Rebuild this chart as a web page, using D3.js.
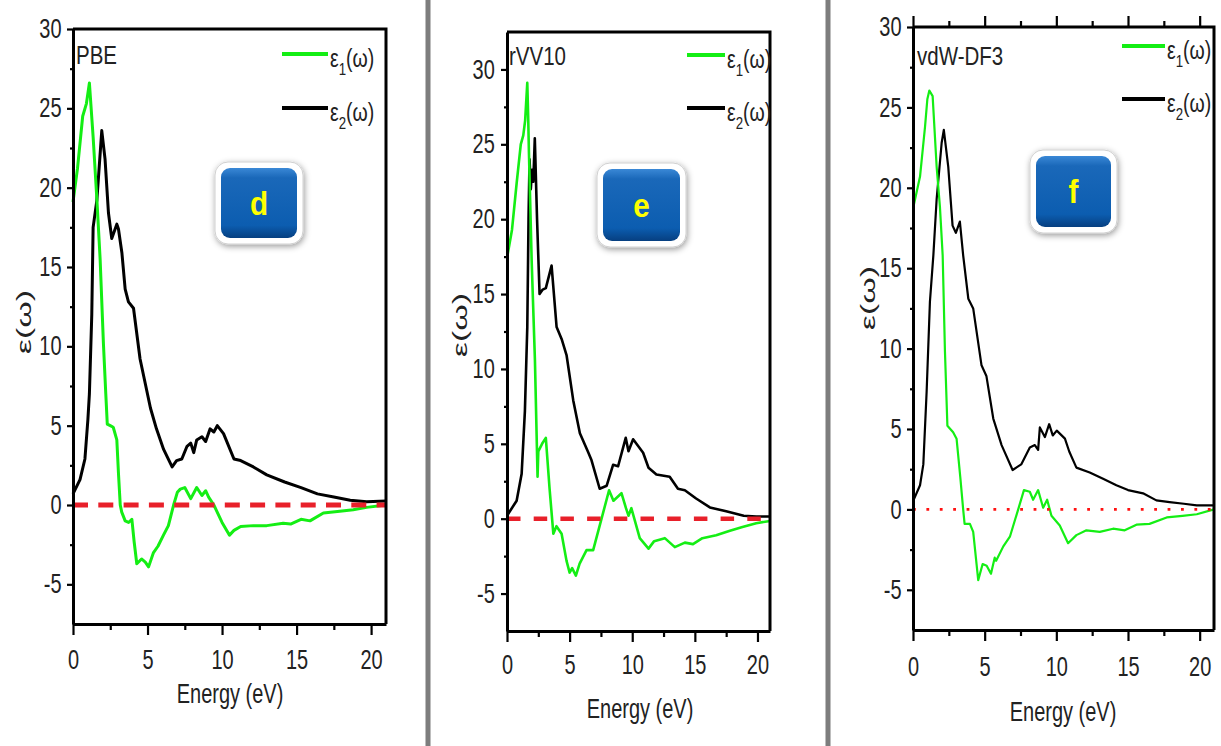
<!DOCTYPE html>
<html>
<head>
<meta charset="utf-8">
<script src="https://cdn.jsdelivr.net/npm/d3@7"></script>
<style>
body{ margin:0; background:#fff; }
svg{ display:block; }
text{ font-family:"Liberation Sans", Arial, sans-serif; }
</style>
</head>
<body>
<svg id="fig" width="1221" height="746"></svg>
<script>
// ---- data (energy in eV, epsilon values) ----
var energy_range = [0, 21];
var x_ticks = [0, 5, 10, 15, 20];
var x_minor = [2.5, 7.5, 12.5, 17.5];
var y_ticks = [-5, 0, 5, 10, 15, 20, 25, 30];
var y_minor = [-2.5, 2.5, 7.5, 12.5, 17.5, 22.5, 27.5];
var panel_titles = ['PBE', 'rVV10', 'vdW-DF3'];
var badge_letters = ['d', 'e', 'f'];
var y_ranges = [[-7.5, 30], [-7.5, 32.5], [-7.5, 30]];

var pbe_eps1 = [[0,19.1],[0.3,21.2],[0.65,24.5],[0.9,25.3],[1.1,26.6],[1.35,23.2],[1.6,19.3],[1.82,15.5],[2.04,10.2],[2.2,7.0],[2.3,5.1],[2.5,5.0],[2.7,4.9],[2.94,4.1],[3.05,2.0],[3.17,0],[3.27,-0.45],[3.5,-1.0],[3.73,-1.1],[3.95,-0.9],[4.1,-2.3],[4.28,-3.7],[4.6,-3.4],[4.85,-3.6],[5.07,-3.9],[5.4,-3.0],[5.7,-2.6],[6.07,-1.9],[6.4,-1.3],[6.75,0],[7.0,0.8],[7.2,1.0],[7.5,1.1],[7.9,0.4],[8.3,1.1],[8.65,0.6],[8.9,0.9],[9.1,0.5],[9.45,0],[10.0,-1.1],[10.5,-1.9],[10.8,-1.6],[11.25,-1.35],[12.1,-1.3],[13.0,-1.3],[14.1,-1.15],[14.6,-1.2],[15.3,-0.9],[15.9,-1.0],[16.8,-0.5],[17.9,-0.4],[18.8,-0.3],[19.7,-0.15],[21,0]];
var pbe_eps2 = [[0,0.7],[0.47,1.6],[0.8,2.9],[1.0,5.4],[1.1,7.0],[1.26,12],[1.35,17.5],[1.6,19.2],[1.93,23.6],[2.15,21.8],[2.38,18.4],[2.6,16.8],[2.94,17.7],[3.05,17.4],[3.28,15.9],[3.5,13.6],[3.72,12.8],[4.06,12.4],[4.5,9.2],[5.2,6.1],[5.6,4.8],[6.08,3.5],[6.65,2.4],[6.95,2.8],[7.3,2.9],[7.65,3.7],[7.9,3.9],[8.1,3.3],[8.3,4.1],[8.65,4.3],[8.9,4.0],[9.2,4.8],[9.45,4.6],[9.68,5.0],[10.1,4.5],[10.8,2.9],[11.25,2.8],[12.1,2.4],[13.0,1.9],[14.2,1.45],[15.3,1.1],[16.4,0.7],[17.5,0.5],[18.6,0.3],[19.7,0.2],[21,0.25]];

var rvv_eps1 = [[0,17.4],[0.4,19.3],[0.77,22.4],[1.1,25.0],[1.3,25.6],[1.45,26.6],[1.62,29.1],[1.7,26.5],[1.75,24.5],[1.97,17.2],[2.23,10.6],[2.44,2.8],[2.5,4.5],[2.8,5.0],[3.1,5.4],[3.4,2.0],[3.7,-1.0],[3.95,-0.5],[4.36,-1.0],[4.75,-2.8],[5.0,-3.6],[5.2,-3.3],[5.5,-3.8],[5.8,-3.0],[6.35,-2.1],[6.88,-2.1],[7.55,0],[8.15,1.9],[8.5,1.2],[9.14,1.7],[9.5,0.7],[9.7,0.2],[9.93,0.7],[10.6,-1.3],[11.3,-2.0],[11.75,-1.5],[12.6,-1.3],[13.4,-1.9],[14.2,-1.6],[14.85,-1.7],[15.6,-1.3],[16.7,-1.1],[17.8,-0.8],[18.8,-0.55],[19.9,-0.3],[21,-0.15]];
var rvv_eps2 = [[0,0.2],[0.77,1.2],[1.17,3.0],[1.43,7.2],[1.62,12.8],[1.72,20],[1.8,24.0],[1.9,22.0],[2.0,23.3],[2.1,22.5],[2.22,25.4],[2.4,20],[2.6,15.0],[2.85,15.3],[3.1,15.4],[3.56,16.9],[3.96,12.8],[4.36,12.0],[4.76,10.9],[5.29,7.9],[5.82,5.7],[6.5,4.4],[6.75,3.9],[7.4,2.0],[7.96,2.2],[8.47,3.6],[8.87,3.5],[9.48,5.4],[9.7,4.5],[10.07,5.3],[10.87,4.4],[11.3,3.4],[11.93,2.95],[12.99,2.8],[13.65,2.0],[14.2,1.9],[15.1,1.35],[16.2,0.75],[17.5,0.5],[18.9,0.2],[19.9,0.15],[21,0.15]];

var df3_eps1 = [[0,18.7],[0.49,20.7],[0.84,23.8],[1.0,25.5],[1.14,26.05],[1.37,25.7],[1.65,21.3],[1.88,18.8],[2.07,15.8],[2.23,9.8],[2.4,5.2],[2.8,4.8],[3.04,4.4],[3.3,2.0],[3.5,0],[3.6,-0.9],[3.97,-0.9],[4.2,-1.4],[4.55,-4.4],[4.86,-3.4],[5.14,-3.5],[5.44,-4.0],[5.7,-3.0],[5.8,-3.2],[6.3,-2.3],[6.76,-1.7],[7.34,0],[7.74,1.2],[8.15,1.1],[8.38,0.6],[8.73,1.2],[9.08,0.1],[9.36,0.6],[9.66,-0.4],[10.24,-1.0],[10.82,-2.1],[11.4,-1.6],[12.1,-1.3],[13.03,-1.4],[13.96,-1.2],[14.77,-1.3],[15.59,-0.95],[16.5,-0.9],[17.7,-0.5],[18.8,-0.4],[19.8,-0.3],[21,0]];
var df3_eps2 = [[0,0.5],[0.49,1.5],[0.72,2.8],[0.95,7.3],[1.18,12.9],[1.42,15.8],[1.65,19.3],[2.0,22.8],[2.15,23.6],[2.46,21.3],[2.76,17.65],[2.99,17.2],[3.27,17.9],[3.5,15.8],[3.86,13.1],[4.2,12.5],[4.78,8.96],[5.12,8.3],[5.6,5.65],[6.18,4.0],[6.95,2.45],[7.55,2.8],[8.15,3.85],[8.5,4.0],[8.73,3.7],[8.85,5.1],[9.2,4.5],[9.5,5.3],[9.75,4.6],[10.03,4.9],[10.6,4.4],[10.9,3.6],[11.4,2.6],[12.33,2.3],[13.26,1.9],[14.19,1.5],[15.0,1.2],[16.05,1.0],[16.98,0.56],[17.9,0.45],[18.9,0.35],[19.8,0.25],[21,0.25]];

var eps1_series = [pbe_eps1, rvv_eps1, df3_eps1];
var eps2_series = [pbe_eps2, rvv_eps2, df3_eps2];

// ---- layout ----
var panels = [
    { left: 73, right: 386, top: 29, bottom: 624, lw: 3, xlab: 26, ygap: 15.5,
      zero: { color: '#e8202a', width: 5, dash: '15 10.3' }, topTicks: false,
      title: [76, 64], legend: [282, 328, 54, 108], badge: [215, 162, 88, 82],
      ylab: [24, 322], xlabel: [230, 703] },
    { left: 507, right: 770, top: 32, bottom: 631, lw: 2.6, xlab: 24, ygap: 16.5,
      zero: { color: '#e8202a', width: 4.5, dash: '13.5 13.2' }, topTicks: false,
      title: [509, 65], legend: [687, 725, 55, 108], badge: [597, 163, 89, 84],
      ylab: [460, 325], xlabel: [640, 718] },
    { left: 913, right: 1214, top: 27, bottom: 630, lw: 2.2, xlab: 27, ygap: 15.5,
      zero: { color: '#ff1010', width: 2.8, dash: '2.8 10.6' }, topTicks: true,
      title: [917, 65], legend: [1122, 1165, 46, 99], badge: [1030, 150, 87, 83],
      ylab: [868, 298], xlabel: [1063, 721] }
];

var SQ = 0.74;   // the original figure is squeezed horizontally
var GREEN = '#14ee14';

var svg = d3.select('#fig');
var defs = svg.append('defs');

var grad = defs.append('linearGradient').attr('id', 'badgeBlue')
    .attr('x1', 0).attr('y1', 0).attr('x2', 0).attr('y2', 1);
grad.append('stop').attr('offset', '0%').attr('stop-color', '#3a88d6');
grad.append('stop').attr('offset', '14%').attr('stop-color', '#1a68b9');
grad.append('stop').attr('offset', '82%').attr('stop-color', '#0c5db0');
grad.append('stop').attr('offset', '100%').attr('stop-color', '#063f80');

var shadow = defs.append('filter').attr('id', 'badgeShadow')
    .attr('x', '-20%').attr('y', '-20%').attr('width', '140%').attr('height', '140%');
shadow.append('feDropShadow').attr('dx', 1).attr('dy', 2).attr('stdDeviation', 3)
    .attr('flood-color', '#000').attr('flood-opacity', 0.4);

// panel separators
[428, 828].forEach(function(sx){
    svg.append('rect').attr('x', sx - 2.5).attr('y', 0).attr('width', 5).attr('height', 746)
        .attr('fill', '#7d7d7d');
});

function squeezeText(sel, x, y, s){
    return sel.attr('transform', 'translate(' + x + ',' + y + ') scale(' + (s || SQ) + ',1)');
}

function drawPanel(i){
    var p = panels[i];
    var x = d3.scaleLinear().domain(energy_range).range([p.left, p.right]);
    var y = d3.scaleLinear().domain(y_ranges[i]).range([p.bottom, p.top]);
    var g = svg.append('g');

    var line = d3.line().x(function(d){ return x(d[0]); }).y(function(d){ return y(d[1]); });

    g.append('path').datum(eps2_series[i]).attr('d', line)
        .attr('fill', 'none').attr('stroke', '#000').attr('stroke-width', p.lw)
        .attr('stroke-linejoin', 'round');
    g.append('path').datum(eps1_series[i]).attr('d', line)
        .attr('fill', 'none').attr('stroke', GREEN).attr('stroke-width', p.lw)
        .attr('stroke-linejoin', 'round');

    // zero reference line
    g.append('line').attr('x1', x(0)).attr('x2', x(energy_range[1]))
        .attr('y1', y(0)).attr('y2', y(0))
        .attr('stroke', p.zero.color).attr('stroke-width', p.zero.width)
        .attr('stroke-dasharray', p.zero.dash);

    // frame top + right
    g.append('path').attr('d', 'M' + p.left + ',' + p.top + 'H' + p.right + 'V' + p.bottom)
        .attr('fill', 'none').attr('stroke', '#000').attr('stroke-width', 3);

    // axes
    var fmt = function(d){ return String(d); };
    var xa = g.append('g').attr('transform', 'translate(0,' + p.bottom + ')')
        .call(d3.axisBottom(x).tickValues(x_ticks).tickSize(11).tickSizeOuter(0)
            .tickPadding(p.xlab - 11).tickFormat(fmt));
    g.append('g').attr('transform', 'translate(0,' + p.bottom + ')')
        .call(d3.axisBottom(x).tickValues(x_minor).tickSize(6).tickFormat(''))
        .select('.domain').remove();

    var ya = g.append('g').attr('transform', 'translate(' + p.left + ',0)')
        .call(d3.axisLeft(y).tickValues(y_ticks).tickSize(6).tickSizeOuter(0)
            .tickPadding(p.ygap - 6).tickFormat(fmt));
    g.append('g').attr('transform', 'translate(' + p.left + ',0)')
        .call(d3.axisLeft(y).tickValues(y_minor).tickSize(3).tickFormat(''))
        .select('.domain').remove();

    if(p.topTicks){
        g.append('g').attr('transform', 'translate(0,' + p.top + ')')
            .call(d3.axisTop(x).tickValues(x_ticks).tickSize(11).tickFormat(''))
            .select('.domain').remove();
        g.append('g').attr('transform', 'translate(0,' + p.top + ')')
            .call(d3.axisTop(x).tickValues(x_minor).tickSize(6).tickFormat(''))
            .select('.domain').remove();
    }

    g.selectAll('.domain').attr('stroke-width', 3);
    g.selectAll('.tick line').attr('stroke-width', 2.2);
    [xa, ya].forEach(function(a){
        a.attr('font-family', '"Liberation Sans", Arial, sans-serif').attr('font-size', 27);
        a.selectAll('text').attr('fill', '#222').attr('transform', 'scale(' + SQ + ',1)');
    });

    // axis titles
    squeezeText(g.append('text'), p.xlabel[0], p.xlabel[1])
        .attr('text-anchor', 'middle').attr('font-size', 27).attr('fill', '#222')
        .text('Energy (eV)');
    g.append('text')
        .attr('transform', 'translate(' + p.ylab[0] + ',' + p.ylab[1] + ') rotate(-90) scale(1,0.62)')
        .attr('text-anchor', 'middle').attr('dy', '0.35em')
        .attr('font-family', '"Liberation Serif", serif').attr('font-size', 34).attr('fill', '#222')
        .text('ε(ω)');

    // panel title
    squeezeText(g.append('text'), p.title[0], p.title[1], 0.82)
        .attr('font-size', 25).attr('fill', '#222').text(panel_titles[i]);

    // legend
    [[GREEN, '1', p.legend[2]], ['#000', '2', p.legend[3]]].forEach(function(L){
        g.append('line').attr('x1', p.legend[0]).attr('x2', p.legend[1])
            .attr('y1', L[2]).attr('y2', L[2])
            .attr('stroke', L[0]).attr('stroke-width', 4);
        var t = squeezeText(g.append('text'), p.legend[1] + 2, L[2] + 13, 0.78)
            .attr('font-size', 25).attr('fill', '#222');
        t.append('tspan').text('ε');
        t.append('tspan').attr('dy', 8).attr('font-size', 17).text(L[1]);
        t.append('tspan').attr('dy', -8).text('(ω)');
    });

    // badge
    var b = p.badge;
    var bg = g.append('g').attr('transform', 'translate(' + b[0] + ',' + b[1] + ')');
    bg.append('rect').attr('width', b[2]).attr('height', b[3]).attr('rx', 13)
        .attr('fill', '#fff').attr('stroke', '#d0d0d0').attr('stroke-width', 1)
        .attr('filter', 'url(#badgeShadow)');
    bg.append('rect').attr('x', 6).attr('y', 6).attr('width', b[2] - 12).attr('height', b[3] - 12)
        .attr('rx', 9).attr('fill', 'url(#badgeBlue)');
    bg.append('text')
        .attr('transform', 'translate(' + (b[2] / 2) + ',' + (b[3] / 2) + ') scale(0.9,1)')
        .attr('text-anchor', 'middle').attr('dy', '0.36em')
        .attr('font-size', 33).attr('font-weight', 'bold').attr('fill', '#ffff00')
        .text(badge_letters[i]);
}

for(var i=0; i<panels.length; i++){ drawPanel(i); }
</script>
</body>
</html>
